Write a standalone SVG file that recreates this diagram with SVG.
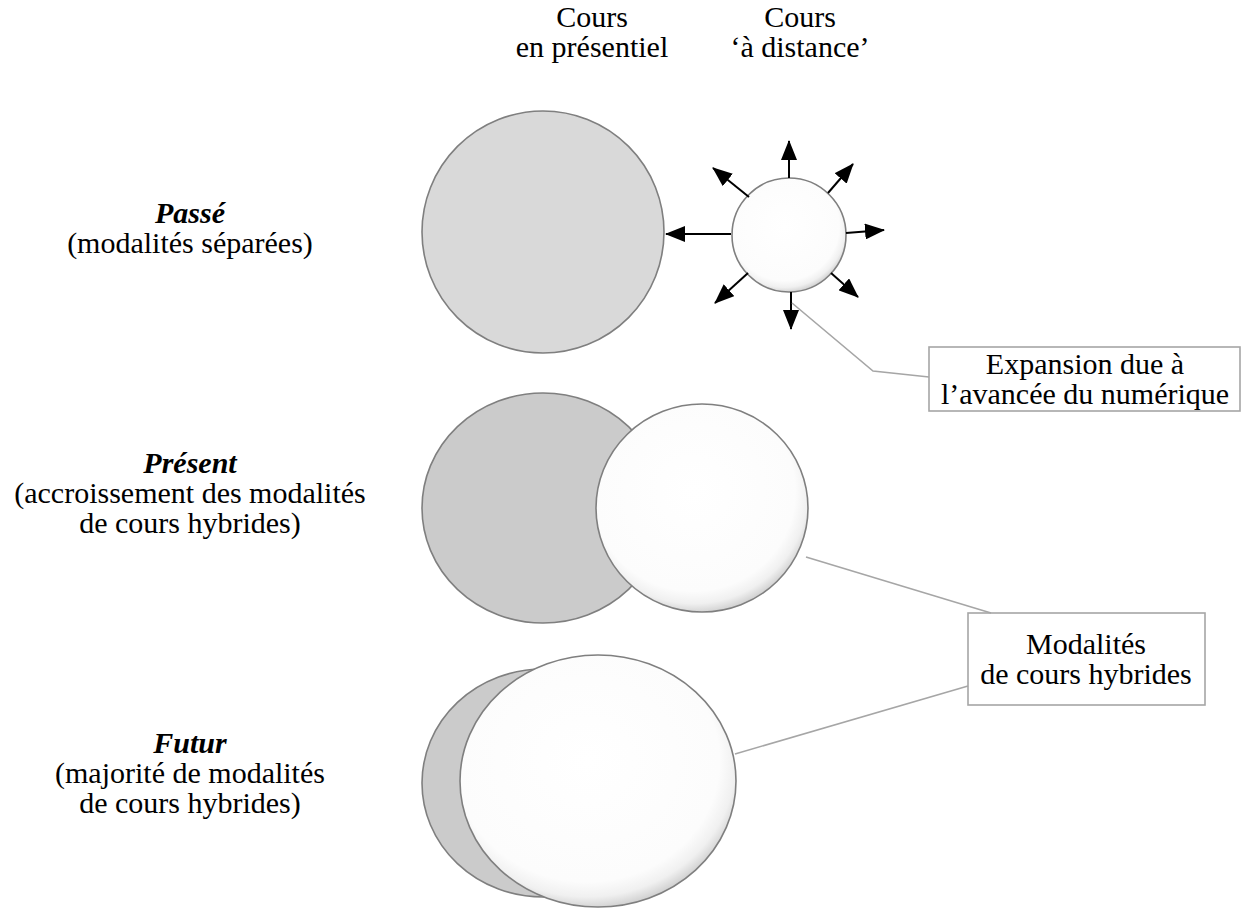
<svg xmlns="http://www.w3.org/2000/svg" width="1241" height="909" viewBox="0 0 1241 909">
  <style>
    text { font-size: 30px; fill: #000; text-anchor: middle; }
    .era { font-weight: bold; font-style: italic; }
    .face { stroke: #7f7f7f; stroke-width: 1.6; }
    .light { fill: #d9d9d9; }
    .mid { fill: #cbcbcb; }
    .bubble { fill: url(#bubbleFill); }
    .callout { fill: none; stroke: #a6a6a6; stroke-width: 1.6; }
    .box { fill: #fff; stroke: #a6a6a6; stroke-width: 1.6; }
    .ray { stroke: #000; stroke-width: 2; marker-end: url(#head); }
  </style>
  <defs>
    <radialGradient id="bubbleFill" cx="0.46" cy="0.42" r="0.6">
      <stop offset="0" stop-color="#ffffff"/>
      <stop offset="0.8" stop-color="#fcfcfc"/>
      <stop offset="0.9" stop-color="#f0f0f0"/>
      <stop offset="1" stop-color="#c8c8c8"/>
    </radialGradient>
    <marker id="head" markerUnits="userSpaceOnUse" markerWidth="20" markerHeight="16" refX="19" refY="8" orient="auto">
      <path d="M0,0 L20,8 L0,16 Z" fill="#000"/>
    </marker>
  </defs>

  <g font-family="Liberation Serif, Times New Roman, Times, DejaVu Serif, serif">
    <!-- column headings -->
    <g id="heading-presentiel">
      <text x="592" y="27">Cours</text>
      <text x="592" y="57">en présentiel</text>
    </g>
    <g id="heading-distance">
      <text x="800" y="27">Cours</text>
      <text x="800" y="57">‘à distance’</text>
    </g>

    <!-- row labels -->
    <g id="label-passe">
      <text class="era" x="190" y="223">Passé</text>
      <text x="190" y="253">(modalités séparées)</text>
    </g>
    <g id="label-present">
      <text class="era" x="190" y="473">Présent</text>
      <text x="190" y="503">(accroissement des modalités</text>
      <text x="190" y="533">de cours hybrides)</text>
    </g>
    <g id="label-futur">
      <text class="era" x="190" y="753">Futur</text>
      <text x="190" y="783">(majorité de modalités</text>
      <text x="190" y="813">de cours hybrides)</text>
    </g>
  </g>

  <!-- past: two separate circles -->
  <g id="passe-presentiel">
    <ellipse class="face light" cx="543" cy="232" rx="121" ry="121"/>
  </g>
  <g id="passe-distance">
    <circle class="face bubble" cx="789" cy="235" r="57"/>
  </g>

  <!-- present: partial overlap -->
  <g id="present-presentiel">
    <ellipse class="face mid" cx="543" cy="508" rx="121" ry="115"/>
  </g>
  <g id="present-hybride">
    <ellipse class="face bubble" cx="702" cy="508" rx="106" ry="104"/>
  </g>

  <!-- future: large overlap -->
  <g id="futur-presentiel">
    <ellipse class="face mid" cx="543" cy="783" rx="121" ry="114"/>
  </g>
  <g id="futur-hybride">
    <ellipse class="face bubble" cx="598" cy="781" rx="138" ry="126"/>
  </g>

  <!-- callout boxes -->
  <g font-family="Liberation Serif, Times New Roman, Times, DejaVu Serif, serif">
    <g id="note-expansion">
      <rect class="box" x="929" y="347" width="311" height="64"/>
      <text x="1085" y="374">Expansion due à</text>
      <text x="1085" y="404">l’avancée du numérique</text>
    </g>
    <g id="note-hybride">
      <rect class="box" x="968" y="613" width="237" height="92"/>
      <text x="1086" y="654">Modalités</text>
      <text x="1086" y="684">de cours hybrides</text>
    </g>
  </g>

  <!-- connectors -->
  <g id="connectors">
    <line class="ray" x1="789" y1="178" x2="789" y2="141"/>
    <line class="ray" x1="731" y1="234" x2="666" y2="234"/>
    <line class="ray" x1="846" y1="233" x2="884" y2="230"/>
    <line class="ray" x1="749" y1="197" x2="713" y2="168"/>
    <line class="ray" x1="828" y1="193" x2="853" y2="164"/>
    <line class="ray" x1="748" y1="273" x2="715" y2="303"/>
    <line class="ray" x1="831" y1="273" x2="858" y2="297"/>
    <line class="ray" x1="791" y1="292" x2="791" y2="329"/>
    <polyline class="callout" points="792,303 873,371 929,377"/>
    <line class="callout" x1="806" y1="557" x2="991" y2="613"/>
    <line class="callout" x1="735" y1="754" x2="968" y2="686"/>
  </g>
</svg>
